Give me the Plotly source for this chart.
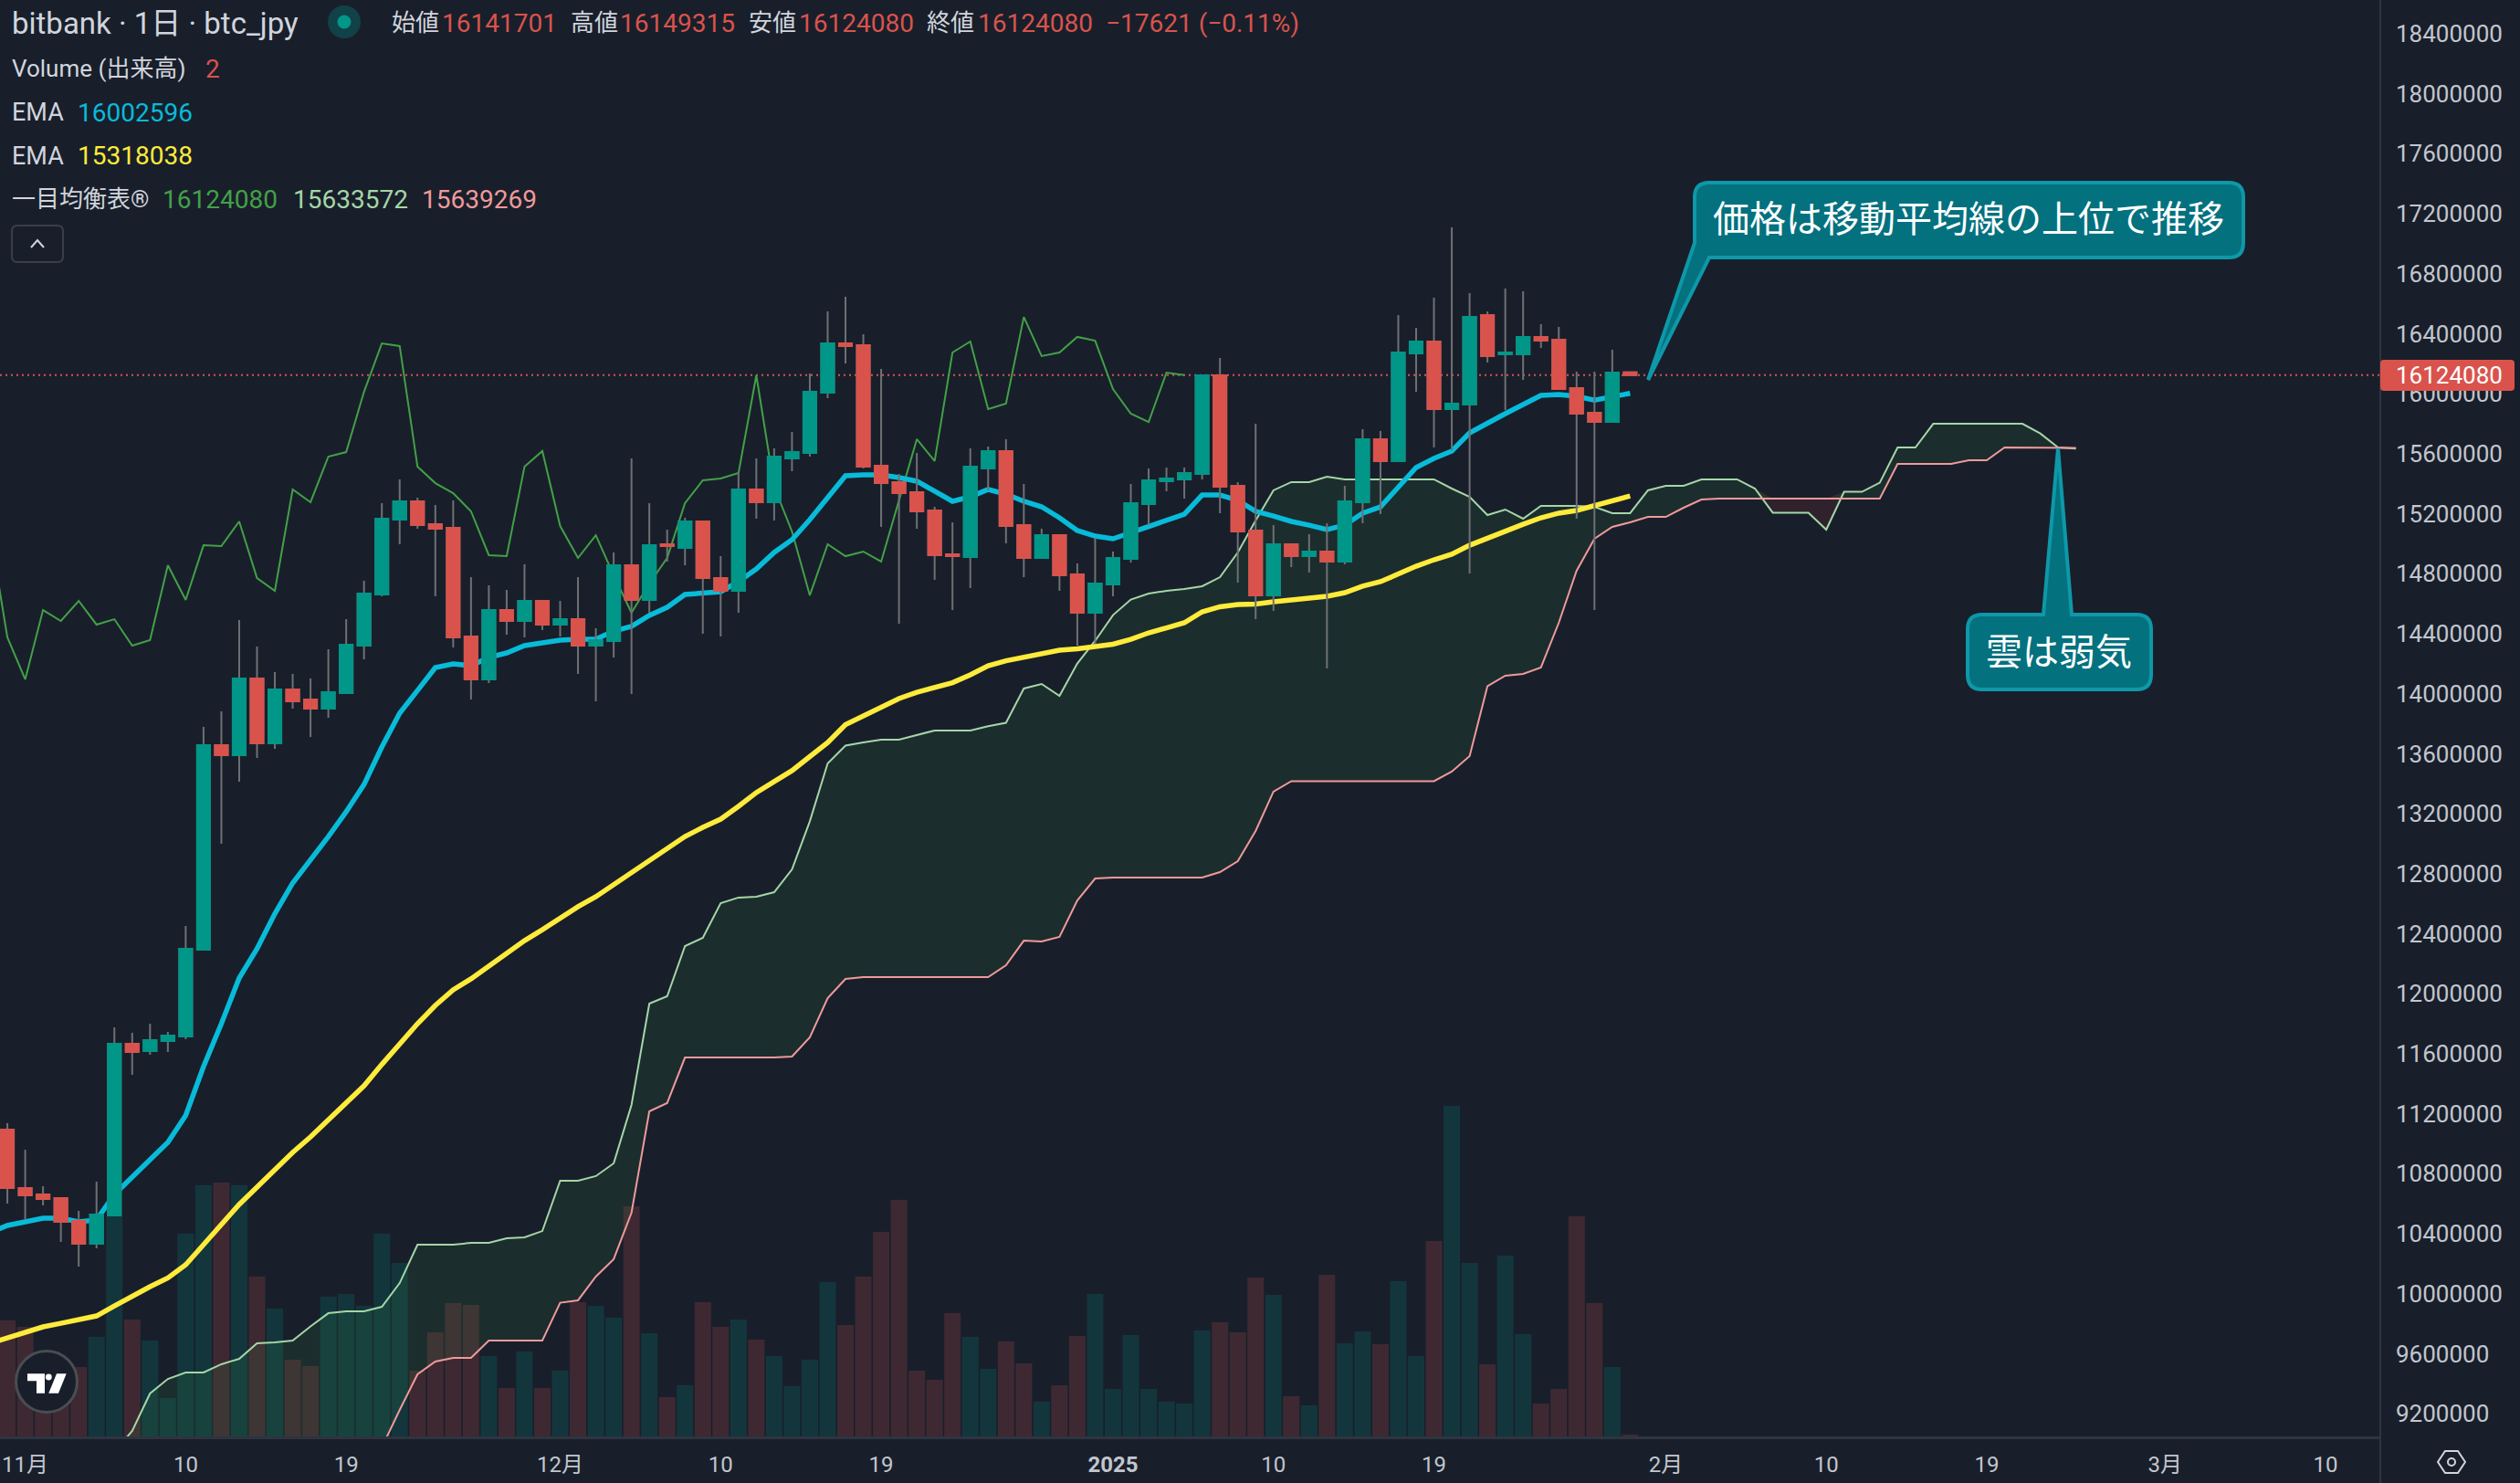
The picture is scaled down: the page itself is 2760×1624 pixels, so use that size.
import numpy as np
import pandas as pd
import plotly.graph_objects as go

BG = '#181f2b'
UP = '#009688'
DOWN = '#d9534c'
WICK = '#6e7073'
GRID_LINE = '#2e3440'
TEXT = '#d1d4dc'
FONT = 'Roboto, "Noto Sans CJK JP", sans-serif'

# daily candles from 2024-10-31, prices in thousands of yen
open_k = [11094, 10705, 10662, 10638, 10485, 10333, 10522, 11666, 11618, 11685, 11715, 12293, 13657, 13590, 14102,
          13669, 14029, 13962, 13901, 14004, 14321, 14662, 15161, 15283, 15131, 15106, 14382, 14096, 14558, 14485,
          14619, 14461, 14497, 14321, 14351, 14857, 14625, 14997, 14972, 15149, 14771, 14686, 15362, 15277, 15569,
          15605, 16007, 16336, 16324, 15520, 15411, 15344, 15222, 14930, 14911, 15502, 15618, 15124, 14905, 15057,
          14796, 14540, 14729, 14899, 15264, 15417, 15429, 15465, 16123, 15386, 15088, 14656, 14997, 14917, 14948,
          14881, 15277, 15697, 15551, 16269, 16348, 15898, 15928, 16525, 16263, 16263, 16379, 16360, 16038, 15873,
          15812, 16142]
high_k = [11137, 10960, 10717, 10638, 10552, 10747, 11776, 11739, 11800, 11746, 12452, 13779, 13882, 14491, 14315,
          14144, 14132, 14102, 14296, 14497, 14753, 15271, 15429, 15307, 15258, 15289, 14777, 14723, 14692, 14863,
          14619, 14619, 14777, 14436, 14942, 15569, 15271, 15094, 15173, 15155, 14917, 15478, 15569, 15636, 15745,
          16135, 16549, 16646, 16397, 16165, 15465, 15605, 15246, 15143, 15636, 15648, 15697, 15398, 15100, 15057,
          14869, 15039, 14948, 15398, 15502, 15508, 15508, 16123, 16239, 15411, 15800, 15124, 14997, 15064, 15137,
          15386, 15764, 15751, 16525, 16439, 16640, 17109, 16671, 16549, 16701, 16683, 16464, 16445, 16147, 16147,
          16293, 16149]
low_k = [10601, 10492, 10589, 10345, 10181, 10303, 10522, 11459, 11593, 11612, 11697, 12293, 13000, 13414, 13572,
         13633, 13901, 13712, 13840, 13998, 14229, 14650, 14997, 15100, 14650, 14309, 13962, 14071, 14394, 14376,
         14424, 14382, 14132, 13949, 14242, 13998, 14540, 14881, 14857, 14400, 14382, 14540, 15167, 15155, 15484,
         15581, 15971, 16202, 15502, 15112, 14467, 15100, 14759, 14558, 14704, 15356, 15003, 14777, 14899, 14686,
         14321, 14333, 14650, 14875, 15124, 15350, 15301, 15429, 15204, 14741, 14497, 14552, 14844, 14808, 14169,
         14863, 15137, 15197, 15551, 16013, 15642, 15624, 14802, 16208, 15891, 16092, 16305, 16025, 15167, 14558,
         15812, 16124]
close_k = [10705, 10656, 10631, 10479, 10333, 10528, 11666, 11612, 11691, 11721, 12300, 13657, 13590, 14102, 13669,
           14029, 13949, 13901, 14010, 14327, 14668, 15167, 15283, 15124, 15100, 14376, 14096, 14558, 14485, 14619,
           14461, 14497, 14321, 14357, 14857, 14625, 14990, 14984, 15149, 14771, 14686, 15362, 15277, 15581, 15611,
           16013, 16336, 16318, 15514, 15404, 15337, 15216, 14924, 14917, 15514, 15618, 15118, 14905, 15057, 14790,
           14540, 14735, 14905, 15271, 15423, 15435, 15471, 16123, 15380, 15082, 14656, 14997, 14917, 14948, 14881,
           15283, 15697, 15551, 16275, 16348, 15898, 15934, 16512, 16251, 16275, 16379, 16354, 16031, 15867, 15812,
           16141, 16124]
volume = [127, 120, 70, 60, 76, 109, 241, 128, 105, 42, 222, 275, 278, 275, 175,
          140, 84, 77, 153, 156, 143, 222, 190, 72, 114, 146, 144, 88, 53, 93,
          53, 72, 147, 143, 130, 252, 113, 43, 56, 147, 120, 128, 106, 88, 55,
          84, 169, 122, 175, 224, 259, 72, 62, 135, 109, 74, 104, 80, 38, 56,
          110, 156, 52, 111, 52, 38, 36, 116, 125, 114, 174, 155, 44, 34, 177,
          102, 115, 101, 170, 88, 214, 362, 190, 79, 198, 112, 36, 52, 241, 146,
          76, 2]

# indicator lines from 2024-10-30
ema_fast_k = [10406, 10455, 10479, 10504, 10504, 10479, 10492, 10662, 10778, 10899, 11009, 11189, 11514, 11800, 12105,
              12300, 12534, 12738, 12890, 13048, 13213, 13395, 13645, 13870, 14022, 14175, 14199, 14187, 14242, 14272,
              14321, 14339, 14357, 14363, 14363, 14418, 14449, 14522, 14576, 14662, 14674, 14680, 14747, 14832, 14942,
              15027, 15161, 15307, 15453, 15459, 15459, 15441, 15417, 15350, 15283, 15313, 15362, 15331, 15283, 15246,
              15173, 15088, 15051, 15033, 15076, 15118, 15161, 15197, 15325, 15325, 15289, 15216, 15185, 15149, 15124,
              15094, 15124, 15204, 15246, 15380, 15508, 15569, 15618, 15739, 15806, 15867, 15928, 15989, 15995, 15983,
              15958, 15983, 16003]
ema_slow_k = [9669, 9706, 9743, 9779, 9803, 9828, 9852, 9919, 9986, 10047, 10105, 10193, 10327, 10464, 10595,
              10711, 10832, 10942, 11045, 11155, 11268, 11386, 11529, 11666, 11800, 11922, 12026, 12099, 12184, 12272,
              12354, 12427, 12507, 12580, 12647, 12726, 12805, 12884, 12963, 13048, 13109, 13164, 13249, 13341, 13414,
              13487, 13581, 13675, 13794, 13852, 13913, 13968, 14010, 14044, 14074, 14126, 14187, 14220, 14242, 14266,
              14290, 14299, 14315, 14330, 14363, 14406, 14439, 14473, 14546, 14580, 14595, 14598, 14613, 14625, 14637,
              14650, 14674, 14717, 14747, 14802, 14850, 14893, 14930, 14990, 15039, 15082, 15130, 15173, 15204, 15222,
              15252, 15283, 15318]
lagging_k = [15100, 14376, 14096, 14558, 14485, 14619, 14461, 14497, 14321, 14357, 14857, 14625, 14990, 14984, 15149,
             14771, 14686, 15362, 15277, 15581, 15611, 16013, 16336, 16318, 15514, 15404, 15337, 15216, 14924, 14917,
             15514, 15618, 15118, 14905, 15057, 14790, 14540, 14735, 14905, 15271, 15423, 15435, 15471, 16123, 15380,
             15082, 14656, 14997, 14917, 14948, 14881, 15283, 15697, 15551, 16275, 16348, 15898, 15934, 16512, 16251,
             16275, 16379, 16354, 16031, 15867, 15812, 16141, 16124]

# cloud from 2024-11-06
span_a_k = [8945, 9085, 9335, 9432, 9475, 9475, 9530, 9566, 9670, 9676, 9688, 9782, 9870, 9883, 9883,
            9913, 10071, 10327, 10327, 10327, 10339, 10339, 10370, 10376, 10418, 10753, 10753, 10784, 10869, 11259,
            11934, 11983, 12318, 12373, 12604, 12641, 12647, 12677, 12829, 13150, 13535, 13654, 13675, 13694, 13694,
            13724, 13755, 13755, 13755, 13783, 13806, 14035, 14065, 13986, 14202, 14353, 14524, 14628, 14668, 14686,
            14698, 14717, 14777, 14942, 15155, 15356, 15411, 15411, 15447, 15429, 15429, 15429, 15429, 15429, 15429,
            15368, 15313, 15191, 15228, 15167, 15252, 15252, 15252, 15246, 15204, 15204, 15356, 15386, 15386, 15429,
            15429, 15429, 15368, 15207, 15207, 15207, 15094, 15346, 15346, 15407, 15642, 15642, 15800, 15800, 15800,
            15800, 15800, 15800, 15735, 15642, 15634]
span_b_k = [8800, 8800, 8800, 8800, 8800, 8800, 8800, 8800, 8800, 8800, 8800, 8800, 8800, 8800, 8800,
            8976, 9225, 9463, 9548, 9572, 9572, 9688, 9688, 9688, 9688, 9940, 9956, 10114, 10230, 10540,
            11216, 11271, 11575, 11575, 11575, 11575, 11575, 11575, 11581, 11709, 11971, 12099, 12111, 12111, 12111,
            12111, 12111, 12111, 12111, 12111, 12190, 12354, 12348, 12379, 12622, 12768, 12774, 12774, 12774, 12774,
            12774, 12774, 12811, 12884, 13085, 13347, 13417, 13417, 13417, 13417, 13417, 13417, 13417, 13417, 13417,
            13481, 13584, 14050, 14120, 14132, 14175, 14473, 14820, 15033, 15112, 15143, 15179, 15179, 15240, 15295,
            15301, 15301, 15301, 15301, 15301, 15301, 15301, 15301, 15301, 15301, 15532, 15532, 15532, 15532, 15557,
            15557, 15642, 15642, 15642, 15642, 15639]

last_price = 16124080
price_ticks = [9200000 + 400000 * n for n in range(24)]
date_ticks = ['2024-11-01', '2024-11-10', '2024-11-19', '2024-12-01', '2024-12-10', '2024-12-19', '2025-01-01',
              '2025-01-10', '2025-01-19', '2025-02-01', '2025-02-10', '2025-02-19', '2025-03-01', '2025-03-10']
date_labels = ['11月', '10', '19', '12月', '10', '19', '<b>2025</b>', '10', '19', '2月', '10', '19', '3月', '10']

# plot area in page pixels, used for the overlay drawings
PLOT_W = 2607
PLOT_H = 1573


def yen(values):
    return np.array(values) * 1000


def px(x):
    return x / PLOT_W


def py(y):
    return 1 - y / PLOT_H


def path(points, close=True):
    d = 'M ' + ' L '.join(f'{px(x):.5f},{py(y):.5f}' for x, y in points)
    return d + (' Z' if close else '')


def round_box(x0, y0, x1, y1, r, top=None, bottom=None):
    """Rounded rectangle path, with an optional pointer on the top or left/bottom edge."""
    def p(x, y):
        return f'{px(x):.5f},{py(y):.5f}'
    d = f'M {p(x0 + r, y0)}'
    if top:
        d += f' L {p(top[0], y0)} L {p(top[1], top[2])} L {p(top[3], y0)}'
    d += f' L {p(x1 - r, y0)} Q {p(x1, y0)} {p(x1, y0 + r)}'
    d += f' L {p(x1, y1 - r)} Q {p(x1, y1)} {p(x1 - r, y1)}'
    if bottom:
        d += f' L {p(bottom[0], y1)} L {p(bottom[1], bottom[2])} L {p(x0, bottom[3])}'
        d += f' L {p(x0, y0 + r)} Q {p(x0, y0)} {p(x0 + r, y0)} Z'
        return d
    d += f' L {p(x0 + r, y1)} Q {p(x0, y1)} {p(x0, y1 - r)}'
    d += f' L {p(x0, y0 + r)} Q {p(x0, y0)} {p(x0 + r, y0)} Z'
    return d


def note(x, y, text, color=TEXT, size=28, anchor='left', family=FONT):
    return dict(xref='paper', yref='paper', x=px(x), y=py(y), text=text, showarrow=False, xanchor=anchor,
                yanchor='middle', borderpad=0, font=dict(family=family, size=size, color=color))


def circle(cx, cy, r, **kwargs):
    return dict(type='circle', xref='paper', yref='paper', x0=px(cx - r), x1=px(cx + r), y0=py(cy + r), y1=py(cy - r),
                **kwargs)


candle_dates = pd.date_range('2024-10-31', periods=len(close_k))
line_dates = pd.date_range('2024-10-30', periods=len(ema_fast_k))
lag_dates = pd.date_range('2024-10-30', periods=len(lagging_k))
cloud_dates = pd.date_range('2024-11-06', periods=len(span_a_k))
cloud_top = np.maximum(span_a_k, span_b_k)

bar_colors = ['rgba(0,150,136,0.2)' if c >= o else 'rgba(217,83,79,0.2)' for o, c in zip(open_k, close_k)]
hidden_line = dict(width=0, color='rgba(0,0,0,0)')

fig = go.Figure()

fig.add_trace(go.Bar(x=candle_dates, y=volume, marker_color=bar_colors, marker_line_width=0, yaxis='y'))

# cloud: green where span A is on top, red where span B is on top
fig.add_trace(go.Scatter(x=cloud_dates, y=yen(span_b_k), mode='lines', line=hidden_line, yaxis='y2'))
fig.add_trace(go.Scatter(x=cloud_dates, y=yen(cloud_top), mode='lines', line=hidden_line, yaxis='y2', fill='tonexty',
                         fillcolor='rgba(67,160,71,0.11)'))
fig.add_trace(go.Scatter(x=cloud_dates, y=yen(span_a_k), mode='lines', line=hidden_line, yaxis='y2'))
fig.add_trace(go.Scatter(x=cloud_dates, y=yen(cloud_top), mode='lines', line=hidden_line, yaxis='y2', fill='tonexty',
                         fillcolor='rgba(244,67,54,0.11)'))

fig.add_trace(go.Scatter(x=lag_dates, y=yen(lagging_k), mode='lines', line=dict(color='#43a047', width=2), yaxis='y2'))
fig.add_trace(go.Scatter(x=cloud_dates, y=yen(span_a_k), mode='lines', line=dict(color='#a5d6a7', width=2), yaxis='y2'))
fig.add_trace(go.Scatter(x=cloud_dates, y=yen(span_b_k), mode='lines', line=dict(color='#ef9a9a', width=2), yaxis='y2'))
fig.add_trace(go.Scatter(x=line_dates, y=yen(ema_fast_k), mode='lines', yaxis='y2',
                         line=dict(color='#08bbd9', width=5.5)))
fig.add_trace(go.Scatter(x=line_dates, y=yen(ema_slow_k), mode='lines', yaxis='y2',
                         line=dict(color='#ffeb3b', width=5.5)))

# wicks in grey, then the bodies drawn over them in their own colour
fig.add_trace(go.Candlestick(
    x=candle_dates, open=yen(open_k), high=yen(high_k), low=yen(low_k), close=yen(close_k), yaxis='y3',
    whiskerwidth=0,
    increasing=dict(line=dict(color=WICK, width=2), fillcolor=UP),
    decreasing=dict(line=dict(color=WICK, width=2), fillcolor=DOWN),
))
fig.add_trace(go.Candlestick(
    x=candle_dates, open=yen(open_k), close=yen(close_k), yaxis='y3',
    high=yen(np.maximum(open_k, close_k)), low=yen(np.minimum(open_k, close_k)),
    whiskerwidth=0,
    increasing=dict(line=dict(color=UP, width=2), fillcolor=UP),
    decreasing=dict(line=dict(color=DOWN, width=2), fillcolor=DOWN),
))

price_range = [9048600, 18625000]

shapes = [
    dict(type='line', layer='below', xref='paper', x0=0, x1=1, yref='y2', y0=last_price, y1=last_price,
         line=dict(color=DOWN, width=2, dash='2px 4px')),
    dict(type='line', xref='paper', yref='paper', x0=1, x1=1, y0=py(1624), y1=1,
         line=dict(color=GRID_LINE, width=2)),
    # price tag
    dict(type='path', xref='paper', yref='paper', fillcolor=DOWN, line_width=0,
         path=round_box(2607, 394, 2754, 428, 4)),
    # callouts
    dict(type='path', xref='paper', yref='paper', fillcolor='#04717f', line=dict(color='#0e98a8', width=4),
         path=round_box(1856, 200, 2457, 282, 16, bottom=(1872, 1805, 416, 266))),
    dict(type='path', xref='paper', yref='paper', fillcolor='#04717f', line=dict(color='#0e98a8', width=4),
         path=round_box(2155, 673, 2356, 755, 16, top=(2238, 2254, 491, 2269))),
    # status dot
    circle(377, 24, 18, fillcolor='rgba(0,150,136,0.3)', line_width=0),
    circle(377, 24, 7.5, fillcolor=UP, line_width=0),
    # collapse button
    dict(type='path', xref='paper', yref='paper', line=dict(color='#3a3e47', width=2),
         path=round_box(13, 247, 69, 287, 6)),
    dict(type='path', xref='paper', yref='paper', line=dict(color=TEXT, width=2),
         path=path([(34, 271), (41, 263), (48, 271)], close=False)),
    # logo
    circle(51, 1513, 33.5, fillcolor=BG, line=dict(color='#4a4d52', width=3)),
    dict(type='path', xref='paper', yref='paper', fillcolor='#ffffff', line_width=0,
         path=path([(30, 1504.3), (49, 1504.3), (49, 1525.7), (40, 1525.7), (40, 1512.3), (30, 1512.3)])),
    circle(53.3, 1508, 3.4, fillcolor='#ffffff', line_width=0),
    dict(type='path', xref='paper', yref='paper', fillcolor='#ffffff', line_width=0,
         path=path([(62, 1504.3), (72.7, 1504.3), (64, 1525.7), (53.3, 1525.7)])),
    # settings icon
    dict(type='path', xref='paper', yref='paper', line=dict(color=TEXT, width=2),
         path=path([(2678, 1589), (2692, 1589), (2700, 1601), (2692, 1613), (2678, 1613), (2670, 1601)])),
    circle(2685, 1601, 4, line=dict(color=TEXT, width=2)),
]

annotations = [
    note(12, 25, 'bitbank · 1日 · btc_jpy', size=33),
    note(428, 25, '始値', size=26), note(483, 25, '16141701', DOWN),
    note(624, 25, '高値', size=26), note(678, 25, '16149315', DOWN),
    note(819, 25, '安値', size=26), note(874, 25, '16124080', DOWN),
    note(1014, 25, '終値', size=26), note(1070, 25, '16124080', DOWN),
    note(1210, 25, '−17621 (−0.11%)', DOWN),
    note(12, 75, 'Volume (出来高)', size=26), note(224, 75, '2', DOWN),
    note(12, 123, 'EMA', size=27), note(84, 123, '16002596', '#08bbd9'),
    note(12, 171, 'EMA', size=27), note(84, 171, '15318038', '#ffeb3b'),
    note(12, 218, '一目均衡表®', size=26), note(177, 218, '16124080', '#43a047'),
    note(320, 218, '15633572', '#a5d6a7'), note(461, 218, '15639269', '#ef9a9a'),
    note(2623, 411, f'{last_price}', '#ffffff', size=26),
    note(2156, 237, '価格は移動平均線の上位で推移', '#ffffff', size=40, anchor='center', family='"Noto Sans CJK JP"'),
    note(2255, 711, '雲は弱気', '#ffffff', size=40, anchor='center', family='"Noto Sans CJK JP"'),
]

fig.update_layout(
    width=2760, height=1624, margin=dict(l=0, r=153, t=0, b=51),
    paper_bgcolor=BG, plot_bgcolor=BG, showlegend=False, bargap=0.08, barmode='overlay', hovermode=False,
    boxgap=0.28, boxgroupgap=0,
    font=dict(family=FONT, color='#c3c6ce', size=24),
    xaxis=dict(range=['2024-10-30 14:05', '2025-03-13 01:40'], type='date', rangeslider_visible=False,
               showgrid=False, zeroline=False, showline=True, linecolor=GRID_LINE, linewidth=3,
               tickmode='array', tickvals=date_ticks, ticktext=date_labels, ticks='', ticklabelstandoff=7,
               tickfont=dict(size=24), tickangle=0),
    yaxis=dict(range=[0, PLOT_H], visible=False),
    yaxis2=dict(range=price_range, overlaying='y', side='right', anchor='x', showgrid=False, zeroline=False,
                tickmode='array', tickvals=price_ticks, tickformat='d', ticks='', ticklabelstandoff=16,
                tickfont=dict(size=26), showline=False),
    yaxis3=dict(range=price_range, overlaying='y', side='right', anchor='x', visible=False),
    shapes=shapes, annotations=annotations,
)

fig.write_html('out.html', config=dict(displayModeBar=False),
               post_script="document.body.style.margin='0';document.body.style.overflow='hidden';")
